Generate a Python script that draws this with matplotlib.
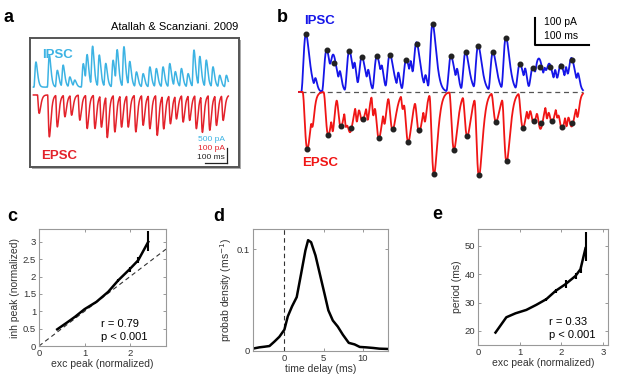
import numpy as np
import matplotlib.pyplot as plt
from matplotlib.patches import Rectangle

plt.rcParams['font.family'] = ['Liberation Sans', 'DejaVu Sans']

# ---- panel a: event peaks (ms, pA)
a_ipsc_t = [0, 62, 99, 126, 157, 180, 219, 237, 262, 293, 323, 357, 376, 407, 434,
            465, 496, 527, 557, 588, 619, 645, 673, 704, 731, 758, 788, 819, 850, 881]
a_ipsc_amp = [833, 1056, 556, 722, 333, 222, 778, 1000, 1333, 1056, 778, 889, 1167, 1333, 833,
              500, 444, 667, 611, 667, 778, 500, 611, 444, 1222, 1000, 889, 667, 389, 389]
a_epsc_t = [15, 62, 99, 134, 165, 203, 237, 273, 303, 330, 365, 396, 427, 462, 496,
            527, 561, 591, 622, 650, 681, 711, 742, 770, 804, 835, 866]
a_epsc_amp = [-122, -278, -211, -144, -133, -167, -222, -222, -211, -278, -244, -211, -211, -244, -200,
              -222, -267, -222, -189, -156, -178, -167, -222, -244, -233, -200, -167]

# ---- panel b: detected peaks (dots), ms and pA
b_ipsc_t = [12.2, 50.2, 63.6, 91.8, 115, 142.5, 166.4, 196.4, 215.4, 244.7, 278.4,
            305.3, 328.5, 355.5, 379.3, 405, 428.9, 442.3, 459.5, 480.3, 499.8]
b_ipsc_amp = [212, 154, 105, 150, 126, 131, 136, 118, 174, 248, 131,
              145, 167, 145, 198, 101, 88, 92, 92, 96, 118]
b_epsc_t = [14.7, 53.2, 76.5, 94.2, 116.2, 146.2, 171.3, 200, 220.2, 247.2, 283.9,
            308.3, 329.8, 361, 380.5, 410.5, 430.7, 443.6, 464.3, 482.7, 500.4]
b_epsc_amp = [-209, -159, -126, -131, -101, -168, -137, -182, -141, -301, -211,
              -161, -304, -110, -252, -131, -107, -112, -105, -127, -114]
# smaller events between the marked peaks
b_ipsc_small_t = [30, 75, 102, 127, 152, 182, 205, 232, 290, 415, 436, 451, 470, 490, 512]
b_ipsc_small_amp = [35, 45, 55, 50, 45, 55, 60, 45, 50, 50, 40, 45, 50, 55, 40]
b_epsc_small_t = [25, 62, 86, 106, 126, 136, 157, 190, 231, 421, 455, 474, 491, 511]
b_epsc_small_amp = [-55, -75, -80, -75, -65, -80, -65, -55, -65, -55, -65, -55, -65, -55]

# ---- panel c
c_x = [0.40, 0.62, 0.79, 1.00, 1.26, 1.52, 1.74, 1.99, 2.18, 2.40]
c_y = [0.48, 0.68, 0.84, 1.06, 1.27, 1.56, 1.89, 2.21, 2.47, 3.00]
c_err_x = [0.79, 1.74, 1.99, 2.18, 2.40]
c_err_lo = [0.80, 1.85, 2.13, 2.40, 2.74]
c_err_hi = [0.87, 1.93, 2.28, 2.56, 3.32]

# ---- panel d
d_x = [-4.04, -3.19, -2.55, -1.9, -1.28, -0.64, 0, 0.43, 0.98, 1.57, 2.13, 2.68, 3.02,
       3.4, 3.96, 4.6, 5.15, 5.6, 6.17, 6.8, 7.45, 8.2, 8.94, 9.6, 10.4, 11.3, 12.1, 13.2]
d_y = [0.0023, 0.0036, 0.0042, 0.0049, 0.0092, 0.014, 0.021, 0.034, 0.044, 0.053, 0.076,
       0.099, 0.109, 0.107, 0.094, 0.073, 0.055, 0.040, 0.030, 0.024, 0.016, 0.008, 0.0065,
       0.004, 0.0036, 0.003, 0.0023, 0.002]

# ---- panel e
e_x = [0.42, 0.68, 0.90, 1.16, 1.40, 1.64, 1.86, 2.10, 2.34, 2.46, 2.58]
e_y = [19.4, 24.8, 26.2, 27.4, 29.2, 31.2, 34.1, 36.5, 39.4, 41.8, 49.2]
e_err_x = [1.64, 1.86, 2.10, 2.34, 2.46, 2.58]
e_err_lo = [30.7, 33.3, 35.0, 38.5, 40.5, 44.8]
e_err_hi = [31.6, 34.8, 38.0, 40.5, 43.0, 55.1]


def psc_trace(t, times, amps, t_peak, n):
    # each event: smooth gamma-shaped transient with unit peak at its listed time
    y = np.zeros_like(t)
    for t0, a in zip(times, amps):
        s = np.clip((t - (t0 - t_peak)) / t_peak, 0, None)
        y += a * s ** n * np.exp(n * (1 - s))
    return y


def style_axes(ax):
    for sp in ax.spines.values():
        sp.set_color('#999999')
        sp.set_linewidth(0.8)
    ax.tick_params(direction='in', length=2.5, width=0.6, top=True, right=True,
                   color='#888888', labelcolor='#333333', labelsize=6.8, pad=2)


fig = plt.figure(figsize=(6.17, 3.82), dpi=100)
W, H = 617, 382


def px_axes(l, t, r, b):
    return fig.add_axes([l / W, 1 - b / H, (r - l) / W, (b - t) / H])


# ================= panel a
shadow = Rectangle(((30 + 2) / W, 1 - (167 + 2) / H), 209 / W, 129 / H,
                   transform=fig.transFigure, facecolor='#aaaaaa', edgecolor='none', zorder=-5)
fig.add_artist(shadow)
axa = px_axes(30, 38, 239, 167)
axa.set_facecolor('white')
for sp in axa.spines.values():
    sp.set_color('#555555')
    sp.set_linewidth(1.4)
axa.set_xticks([])
axa.set_yticks([])
ta = np.arange(-12, 890, 0.5)
cyan = '#3db3e3'
reda = '#e3222b'
axa.plot(ta, psc_trace(ta, a_ipsc_t, a_ipsc_amp, 10.0, 3) / 500 + 5.3, color=cyan, lw=1.1)
axa.plot(ta, psc_trace(ta, a_epsc_t, a_epsc_amp, 8.0, 2) / 100 + 4.78, color=reda, lw=1.1)
axa.set_xlim(-27.7, 939)
axa.set_ylim(0, 8.56)
axa.text(30, 7.4, 'IPSC', color=cyan, fontsize=9.5, fontweight='bold', va='center')
axa.text(25, 0.75, 'EPSC', color=reda, fontsize=9.5, fontweight='bold', va='center')
axa.plot([782, 882], [0.24, 0.24], color='#222222', lw=0.9)
axa.plot([882, 882], [0.24, 1.24], color='#222222', lw=0.9)
axa.text(875, 1.84, '500 pA', color=cyan, fontsize=6, ha='right', va='center')
axa.text(875, 1.22, '100 pA', color=reda, fontsize=6, ha='right', va='center')
axa.text(875, 0.62, '100 ms', color='#222222', fontsize=6, ha='right', va='center')
fig.text(238 / W, 1 - 27 / H, 'Atallah & Scanziani. 2009', fontsize=8, ha='right', va='center')

# ================= panel b
axb = px_axes(298, 8, 595, 190)
axb.axis('off')
tb = np.arange(-2, 521, 0.5)
ipsc_b = (psc_trace(tb, b_ipsc_t, b_ipsc_amp, 9.0, 3)
          + psc_trace(tb, b_ipsc_small_t, b_ipsc_small_amp, 4.0, 3))
epsc_b = (psc_trace(tb, b_epsc_t, b_epsc_amp, 9.0, 3)
          + psc_trace(tb, b_epsc_small_t, b_epsc_small_amp, 4.0, 3))
axb.axhline(0, xmin=0.01, xmax=0.96, color='#555555', lw=0.9, ls=(0, (4, 3)), zorder=1)
axb.plot(tb, ipsc_b, color='#1515e8', lw=1.3)
axb.plot(tb, epsc_b, color='#f01515', lw=1.3)
axb.plot(b_ipsc_t, b_ipsc_amp, 'o', color='#222222', ms=3.3, zorder=4)
axb.plot(b_epsc_t, b_epsc_amp, 'o', color='#222222', ms=3.3, zorder=4)
axb.set_xlim(-2.4, 542.6)
axb.set_ylim(-359, 307)
axb.text(8, 258, 'IPSC', color='#1515e8', fontsize=9.5, fontweight='bold', va='center')
axb.text(6, -262, 'EPSC', color='#f01515', fontsize=9.5, fontweight='bold', va='center')
axb.plot([432.5, 432.5, 532.5], [272, 172, 172], color='black', lw=1.5)
axb.text(449, 256, '100 pA', fontsize=7.5, va='center')
axb.text(449, 205, '100 ms', fontsize=7.5, va='center')

# ================= panel c
axc = px_axes(39, 229, 166, 346)
style_axes(axc)
axc.plot([0, 2.79], [0, 2.79], ls=(0, (4, 3)), color='#333333', lw=0.8)
axc.plot(c_x, c_y, color='black', lw=1.8)
axc.vlines(c_err_x, c_err_lo, c_err_hi, color='black', lw=1.5)
axc.set_xlim(0, 2.79)
axc.set_ylim(0, 3.37)
axc.set_xticks([0, 1, 2])
axc.set_xticklabels(['0', '1', '2'])
axc.set_yticks([0, 0.5, 1, 1.5, 2, 2.5, 3])
axc.set_yticklabels(['0', '0.5', '1', '1.5', '2', '2.5', '3'])
axc.set_xlabel('exc peak (normalized)', fontsize=7.5, color='#333333', labelpad=1)
axc.set_ylabel('inh peak (normalized)', fontsize=7.5, color='#333333', labelpad=2)
axc.text(1.37, 0.45, 'r = 0.79\np < 0.001', fontsize=8, va='center', linespacing=1.3)

# ================= panel d
axd = px_axes(253, 229, 388, 351)
style_axes(axd)
axd.axvline(0, color='#333333', lw=0.8, ls=(0, (4, 3)))
axd.plot(d_x, d_y, color='black', lw=1.8)
axd.set_xlim(-4, 13.2)
axd.set_ylim(0, 0.12)
axd.set_xticks([0, 5, 10])
axd.set_yticks([0, 0.1])
axd.set_yticklabels(['0', '0.1'])
axd.set_xlabel('time delay (ms)', fontsize=7.5, color='#333333', labelpad=1)
axd.set_ylabel('probab density (ms$^{-1}$)', fontsize=7.5, color='#333333', labelpad=2)

# ================= panel e
axe = px_axes(478, 229, 608, 345)
style_axes(axe)
axe.plot(e_x, e_y, color='black', lw=1.8)
axe.vlines(e_err_x, e_err_lo, e_err_hi, color='black', lw=1.5)
axe.set_xlim(0, 3.12)
axe.set_ylim(15, 56)
axe.set_xticks([0, 1, 2, 3])
axe.set_yticks([20, 30, 40, 50])
axe.set_xlabel('exc peak (normalized)', fontsize=7.5, color='#333333', labelpad=1)
axe.set_ylabel('period (ms)', fontsize=7.5, color='#333333', labelpad=2)
axe.text(1.7, 20.9, 'r = 0.33\np < 0.001', fontsize=8, va='center', linespacing=1.3)

# panel letters
for lbl, x, y in [('a', 4, 17), ('b', 277, 17), ('c', 7, 216), ('d', 213, 216), ('e', 432, 215)]:
    fig.text(x / W, 1 - y / H, lbl, fontsize=13, fontweight='bold', va='center')

fig.savefig('out.png', dpi=100)
